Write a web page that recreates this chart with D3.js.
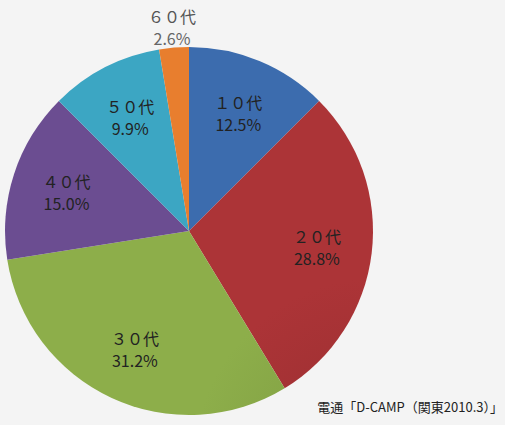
<!DOCTYPE html><html><head><meta charset="utf-8">
<script src="https://cdn.jsdelivr.net/npm/d3@7"></script>
<style>body{margin:0;background:#f4f4f4}svg{display:block}</style></head><body>
<svg width="505" height="425"></svg>
<script>
const categories=["１０代","２０代","３０代","４０代","５０代","６０代"];
const values=[12.5,28.8,31.2,15.0,9.9,2.6];
const colors=["#3a68a8","#a63235","#88a847","#674a8c","#3aa0bc","#e07a2c"];
const svg=d3.select("svg");
const cx=189,cy=231,r=184;
const defs=svg.append("defs");
colors.forEach((c,i)=>{const g=defs.append("radialGradient").attr("id","g"+i).attr("gradientUnits","userSpaceOnUse").attr("cx",cx).attr("cy",cy).attr("r",r);
g.append("stop").attr("offset","0%").attr("stop-color",d3.color(c).darker(0.25));
g.append("stop").attr("offset","100%").attr("stop-color",d3.color(c).brighter(0.1));});
const pie=d3.pie().sort(null).value(d=>d)(values);
const arc=d3.arc().innerRadius(0).outerRadius(r);
const g=svg.append("g").attr("transform",`translate(${cx},${cy})`);
g.selectAll("path").data(pie).join("path").attr("d",arc).attr("fill",(d,i)=>`url(#g${i})`);
const lab=d3.arc().innerRadius(r*0.7).outerRadius(r*0.7);
const out=d3.arc().innerRadius(r*1.08).outerRadius(r*1.08);
pie.forEach((d,i)=>{
  let [x,y]=i===5?[-17,-193]:lab.centroid(d);
  if(i===5){x=-17;y=-205;}
  const col=i===5?"#555":"#222";
  const t=g.append("text").attr("text-anchor","middle").attr("font-family","'Noto Sans CJK JP',sans-serif").attr("font-size",16).attr("fill",col);
  t.append("tspan").attr("x",x).attr("y",y-3).text(categories[i]);
  t.append("tspan").attr("x",x).attr("y",y+19).attr("fill",i===5?"#666":col).text(values[i].toFixed(1)+"%");
});
svg.append("text").attr("x",503).attr("y",412).attr("text-anchor","end").attr("font-family","'Noto Sans CJK JP',sans-serif").attr("font-size",13).attr("fill","#222").text("電通「D-CAMP（関東2010.3）」");
</script></body></html>
